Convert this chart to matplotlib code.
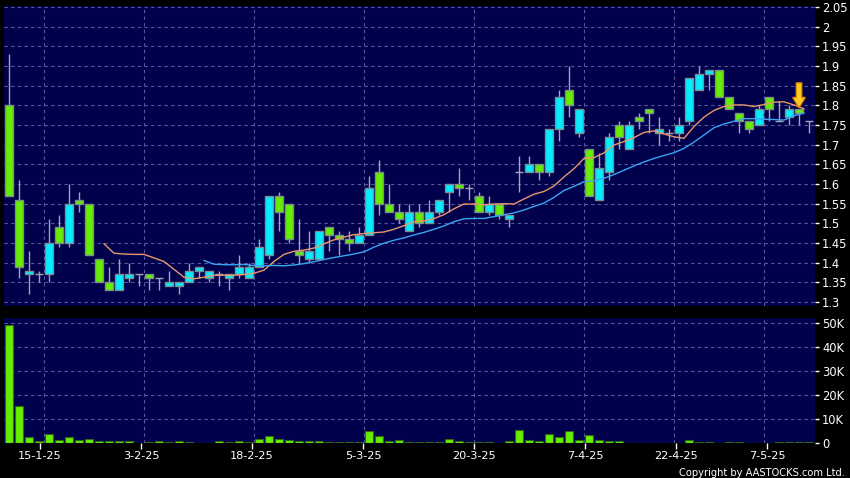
import numpy as np
import pandas as pd
import matplotlib
matplotlib.use("Agg")
import matplotlib.pyplot as plt
from matplotlib.patches import FancyArrow
from matplotlib import font_manager

# ---------------- data ----------------
opens = [1.80, 1.56, 1.37, 1.37, 1.37, 1.49, 1.45, 1.56, 1.55, 1.41,
         1.35, 1.33, 1.36, 1.37, 1.37, 1.36, 1.34, 1.34, 1.35, 1.38,
         1.36, 1.37, 1.36, 1.37, 1.36, 1.39, 1.42, 1.57, 1.55, 1.43,
         1.41, 1.41, 1.49, 1.47, 1.46, 1.45, 1.47, 1.63, 1.55, 1.53,
         1.48, 1.53, 1.50, 1.53, 1.58, 1.60, 1.59, 1.57, 1.53, 1.55,
         1.51, 1.63, 1.63, 1.65, 1.63, 1.74, 1.84, 1.73, 1.69, 1.56,
         1.63, 1.75, 1.69, 1.77, 1.79, 1.73, 1.73, 1.73, 1.76, 1.84,
         1.88, 1.89, 1.82, 1.78, 1.76, 1.75, 1.82, 1.76, 1.77, 1.79,
         1.76]
highs = [1.93, 1.61, 1.43, 1.38, 1.51, 1.52, 1.60, 1.58, 1.55, 1.41,
         1.39, 1.41, 1.40, 1.37, 1.37, 1.36, 1.38, 1.35, 1.40, 1.39,
         1.38, 1.38, 1.37, 1.42, 1.40, 1.46, 1.57, 1.58, 1.55, 1.51,
         1.48, 1.48, 1.49, 1.48, 1.48, 1.49, 1.62, 1.66, 1.60, 1.55,
         1.55, 1.55, 1.56, 1.56, 1.60, 1.64, 1.60, 1.58, 1.57, 1.55,
         1.52, 1.67, 1.67, 1.65, 1.74, 1.84, 1.90, 1.79, 1.69, 1.68,
         1.73, 1.76, 1.76, 1.78, 1.79, 1.77, 1.74, 1.77, 1.87, 1.90,
         1.89, 1.89, 1.82, 1.78, 1.76, 1.80, 1.82, 1.81, 1.80, 1.79,
         1.76]
lows = [1.57, 1.36, 1.32, 1.35, 1.35, 1.44, 1.44, 1.53, 1.42, 1.35,
        1.33, 1.33, 1.35, 1.34, 1.33, 1.33, 1.34, 1.32, 1.35, 1.36,
        1.35, 1.34, 1.33, 1.36, 1.36, 1.39, 1.41, 1.48, 1.45, 1.40,
        1.40, 1.41, 1.43, 1.42, 1.43, 1.45, 1.47, 1.52, 1.53, 1.50,
        1.48, 1.49, 1.50, 1.52, 1.53, 1.57, 1.56, 1.53, 1.52, 1.51,
        1.49, 1.58, 1.63, 1.61, 1.62, 1.71, 1.77, 1.72, 1.57, 1.56,
        1.61, 1.69, 1.69, 1.74, 1.73, 1.70, 1.71, 1.71, 1.75, 1.84,
        1.84, 1.82, 1.79, 1.73, 1.73, 1.75, 1.76, 1.76, 1.75, 1.75,
        1.73]
closes = [1.57, 1.39, 1.38, 1.37, 1.45, 1.45, 1.55, 1.55, 1.42, 1.35,
          1.33, 1.37, 1.37, 1.37, 1.36, 1.36, 1.35, 1.35, 1.38, 1.39,
          1.38, 1.37, 1.37, 1.39, 1.39, 1.44, 1.57, 1.53, 1.46, 1.42,
          1.43, 1.48, 1.47, 1.46, 1.45, 1.47, 1.59, 1.55, 1.53, 1.51,
          1.53, 1.50, 1.53, 1.56, 1.60, 1.59, 1.59, 1.53, 1.55, 1.52,
          1.52, 1.63, 1.65, 1.63, 1.74, 1.82, 1.80, 1.79, 1.57, 1.64,
          1.72, 1.72, 1.75, 1.76, 1.78, 1.74, 1.73, 1.75, 1.87, 1.88,
          1.89, 1.82, 1.79, 1.76, 1.74, 1.79, 1.79, 1.76, 1.79, 1.78,
          1.76]
volumes_k = [49.0, 15.4, 2.6, 0.8, 3.9, 1.2, 2.4, 1.2, 1.7, 1.0,
             0.7, 0.8, 0.8, 0.1, 0.3, 0.8, 0.4, 0.8, 0.4, 0.2,
             0.2, 0.7, 0.4, 1.0, 0.4, 1.5, 3.0, 1.7, 1.2, 0.7,
             0.7, 0.7, 0.6, 0.4, 0.4, 0.6, 5.1, 3.0, 0.7, 1.2,
             0.3, 0.3, 0.4, 0.3, 1.8, 0.7, 0.3, 0.6, 0.6, 0.1,
             1.0, 5.3, 1.4, 1.0, 3.75, 2.6, 5.0, 1.1, 3.3, 1.1,
             1.0, 0.7, 0.05, 0.05, 0.05, 0.2, 0.2, 0.2, 1.1, 0.4,
             0.3, 0.2, 0.3, 0.4, 0.2, 0.2, 0.2, 0.3, 0.3, 0.4,
             0.3]
date_labels = ['15-1-25', '3-2-25', '18-2-25', '5-3-25',
               '20-3-25', '7-4-25', '22-4-25', '7-5-25']
date_index = [3, 13, 24, 35, 46, 57, 66, 75]
price_ticks = [1.3, 1.35, 1.4, 1.45, 1.5, 1.55, 1.6, 1.65, 1.7, 1.75,
               1.8, 1.85, 1.9, 1.95, 2.0, 2.05]
vol_ticks_k = [0, 10, 20, 30, 40, 50]
signal_index = 79

# ---------------- style ----------------
BG = '#000000'
PANEL = '#00004c'
GRID = '#58589a'
UP = '#00eeff'
DOWN = '#66ee00'
EDGE = '#7d8c8c'
WICK = '#a4a4b4'
MA10C = '#e8976c'
MA20C = '#3aa6f0'

W, H = 850, 478
fig = plt.figure(figsize=(W / 100, H / 100), dpi=100, facecolor=BG)
ax = fig.add_axes([4 / W, 1 - 306 / H, 811 / W, 300 / H], facecolor=PANEL)
axv = fig.add_axes([4 / W, 1 - 443 / H, 811 / W, 125 / H], facecolor=PANEL)

n = len(closes)
x = np.arange(n)
o = np.array(opens); c = np.array(closes)
hi = np.array(highs); lo = np.array(lows)

# wicks
ax.vlines(x, lo, hi, color=WICK, linewidth=1, zorder=2)

up = c > o
dn = c < o
dj = c == o
bw = 0.88
ax.bar(x[up], (c - o)[up], bottom=o[up], width=bw, color=UP,
       edgecolor=EDGE, linewidth=1, zorder=3)
ax.bar(x[dn], (o - c)[dn], bottom=c[dn], width=bw, color=DOWN,
       edgecolor=EDGE, linewidth=1, zorder=3)
ax.hlines(c[dj], x[dj] - bw / 2, x[dj] + bw / 2, color=WICK, linewidth=1, zorder=3)

# moving averages (drawn half a bar to the right, as in the source)
s = pd.Series(closes)
ma10 = s.rolling(10).mean()
ma20 = s.rolling(20).mean()
last = signal_index + 1
ax.plot(x[:last] + 0.5, ma10.values[:last], color=MA10C, linewidth=1, zorder=4)
ax.plot(x[:last] + 0.5, ma20.values[:last], color=MA20C, linewidth=1, zorder=4)

# signal arrow
tip = highs[signal_index] + 0.004
arr = FancyArrow(signal_index, tip + 0.063, 0, -0.063, width=0.55,
                 head_width=1.25, head_length=0.026, length_includes_head=True,
                 facecolor='#ffcc22', edgecolor='#e08a00', linewidth=1, zorder=6)
ax.add_patch(arr)

# volume
axv.bar(x, volumes_k, width=bw, color=DOWN, edgecolor='#2f6a10',
        linewidth=0.8, zorder=3)

# axes styling
xlim = (-0.5, 80.6)
for a in (ax, axv):
    a.set_xlim(*xlim)
    for sp in a.spines.values():
        sp.set_visible(False)
    a.yaxis.tick_right()
    a.tick_params(axis='y', colors='white', length=3, width=1, pad=2,
                  labelsize=8.3, direction='out')
    a.set_xticks(np.array(date_index) + 0.5, minor=True)
    a.grid(True, which='minor', axis='x', color=GRID, linestyle=(0, (3, 3)),
           linewidth=0.8, zorder=0)
    a.grid(True, which='major', axis='y', color=GRID, linestyle=(0, (3, 3)),
           linewidth=0.8, zorder=0)
    a.tick_params(axis='x', which='minor', length=0)
    a.set_axisbelow(True)

ax.set_ylim(1.2898, 2.0525)
ax.set_yticks(price_ticks)
ax.set_yticklabels(['%g' % t for t in price_ticks])
ax.set_xticks([])
ax.tick_params(axis='x', which='both', length=0, labelbottom=False)

axv.set_ylim(0, 52.1)
axv.set_yticks(vol_ticks_k)
axv.set_yticklabels(['0' if t == 0 else '%dK' % t for t in vol_ticks_k])
tick_pos = np.array(date_index) * 1.0095 + 0.07
axv.set_xticks(tick_pos)
axv.set_xticklabels(date_labels)
axv.tick_params(axis='x', which='major', colors='white', length=4, width=1,
                pad=1.5, labelsize=8.1, direction='out')

# copyright note: use a condensed face if one is installed
cond = [f.name for f in font_manager.fontManager.ttflist
        if 'Condensed' in f.fname or 'Narrow' in f.name]
if any('DejaVu' in nm for nm in cond):
    cp = dict(family='DejaVu Sans', stretch='condensed', fontsize=7.9)
elif cond:
    cp = dict(family=cond[0], fontsize=7.9)
else:
    cp = dict(family='DejaVu Sans', fontsize=6.8)
fig.text(845 / W, 0.5 / H, 'Copyright by AASTOCKS.com Ltd.', color='white',
         ha='right', va='bottom', **cp)

fig.savefig('out.png', dpi=100, facecolor=BG)
